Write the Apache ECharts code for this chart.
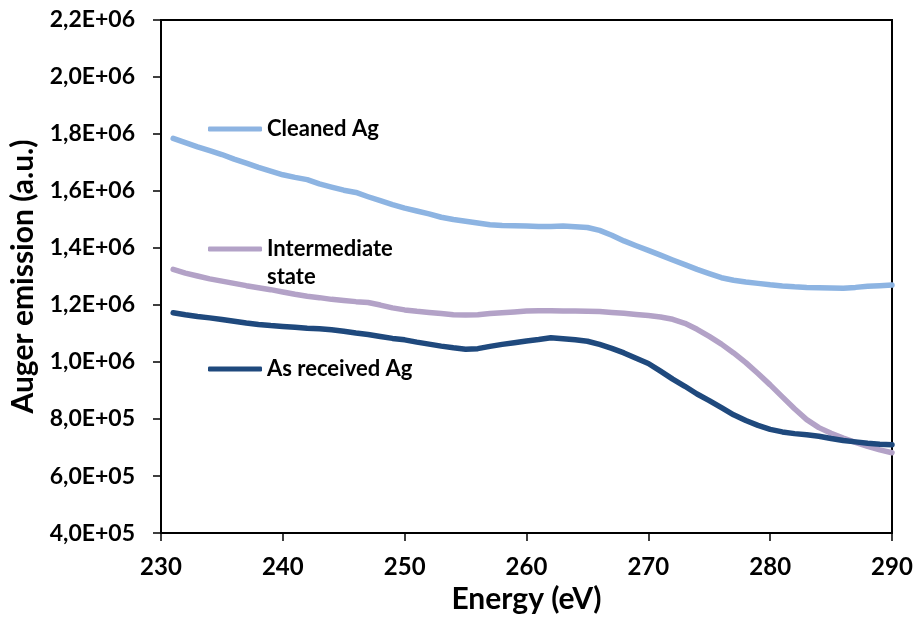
<!DOCTYPE html>
<html>
<head>
<meta charset="utf-8">
<script src="https://cdn.jsdelivr.net/npm/echarts@6/dist/echarts.min.js"></script>
<style>
  html, body { margin: 0; padding: 0; background: #fff; }
  #chart { width: 916px; height: 619px; }
</style>
</head>
<body>
<div id="chart"></div>
<script>
// energie (eV)
const energies = [231, 232, 233, 234, 235, 236, 237, 238, 239, 240,
  241, 242, 243, 244, 245, 246, 247, 248, 249, 250,
  251, 252, 253, 254, 255, 256, 257, 258, 259, 260,
  261, 262, 263, 264, 265, 266, 267, 268, 269, 270,
  271, 272, 273, 274, 275, 276, 277, 278, 279, 280,
  281, 282, 283, 284, 285, 286, 287, 288, 289, 290];

// valeurs en milliers (x1000)
const cleanedAg = [1785, 1770, 1755, 1742, 1728, 1712, 1698, 1683, 1670, 1657,
  1648, 1640, 1625, 1614, 1603, 1595, 1580, 1566, 1552, 1540,
  1530, 1520, 1508, 1500, 1494, 1488, 1482, 1479, 1478, 1477,
  1476, 1476, 1477, 1475, 1472, 1462, 1445, 1425, 1408, 1392,
  1375, 1358, 1342, 1325, 1310, 1296, 1287, 1281, 1276, 1271,
  1267, 1264, 1262, 1261, 1260, 1259, 1262, 1266, 1268, 1270];

const intermediate = [1325, 1312, 1302, 1292, 1284, 1276, 1268, 1261, 1254, 1246,
  1238, 1231, 1226, 1220, 1216, 1212, 1209, 1200, 1190, 1183,
  1178, 1174, 1170, 1166, 1165, 1166, 1170, 1173, 1176, 1179,
  1180, 1180, 1179, 1179, 1178, 1177, 1174, 1171, 1167, 1163,
  1158, 1150, 1136, 1115, 1090, 1063, 1032, 998, 960, 920,
  878, 836, 798, 770, 750, 733, 718, 704, 692, 682];

const asReceived = [1173, 1166, 1160, 1155, 1149, 1143, 1137, 1132, 1128, 1125,
  1122, 1119, 1117, 1113, 1108, 1102, 1097, 1090, 1083, 1078,
  1070, 1063, 1056, 1050, 1045, 1047, 1055, 1062, 1068, 1074,
  1079, 1085, 1082, 1078, 1073, 1062, 1048, 1032, 1013, 995,
  968, 940, 915, 888, 865, 840, 815, 795, 778, 764,
  755, 749, 745, 740, 732, 725, 720, 715, 712, 710];

const seriesNames = ['Cleaned Ag', 'Intermediate state', 'As received Ag'];
const seriesColors = ['#8DB4E2', '#B3A2C7', '#1F497D'];

const FONT = 'Lato';

function toPairs(vals) {
  return energies.map((e, i) => [e, vals[i] * 1000]);
}

// format 2,2E+06
function sciLabel(v) {
  if (v === 0) return '0';
  const exp = Math.floor(Math.log10(v) + 1e-9);
  const m = v / Math.pow(10, exp);
  return m.toFixed(1).replace('.', ',') + 'E+' + String(exp).padStart(2, '0');
}

const myChart = echarts.init(document.getElementById('chart'));

const lineSeries = [cleanedAg, intermediate, asReceived].map((vals, i) => ({
  name: seriesNames[i],
  type: 'line',
  showSymbol: false,
  symbol: 'none',
  data: toPairs(vals),
  lineStyle: { color: seriesColors[i], width: 5.5, cap: 'round', join: 'round' },
  itemStyle: { color: seriesColors[i] }
}));

myChart.setOption({
  animation: false,
  backgroundColor: '#fff',
  grid: {
    left: 161,
    right: 24,
    top: 20,
    bottom: 82,
    show: true,
    borderColor: '#000',
    borderWidth: 2
  },
  legend: {
    orient: 'vertical',
    left: 208,
    top: 115,
    padding: 0,
    itemWidth: 54,
    itemHeight: 5,
    itemGap: 64,
    icon: 'roundRect',
    textStyle: {
      fontFamily: FONT,
      fontWeight: 'bold',
      fontSize: 22,
      lineHeight: 28,
      color: '#000'
    },
    // ligne vide au-dessus pour aligner le trait sur "Intermediate"
    formatter: function (name) {
      return name === 'Intermediate state' ? '\nIntermediate\nstate' : name;
    },
    data: seriesNames
  },
  xAxis: {
    type: 'value',
    min: 230,
    max: 290,
    interval: 10,
    name: 'Energy (eV)',
    nameLocation: 'middle',
    nameGap: 47,
    nameTextStyle: { fontFamily: FONT, fontWeight: 'bold', fontSize: 30, color: '#000' },
    splitLine: { show: false },
    axisLine: { lineStyle: { color: '#000', width: 2 } },
    axisTick: { inside: false, length: 8, lineStyle: { color: '#000', width: 1.5 } },
    axisLabel: { fontFamily: FONT, fontWeight: 'bold', fontSize: 24, color: '#000', margin: 22 }
  },
  yAxis: {
    type: 'value',
    min: 400000,
    max: 2200000,
    interval: 200000,
    name: 'Auger emission (a.u.)',
    nameLocation: 'middle',
    nameGap: 120,
    nameTextStyle: { fontFamily: FONT, fontWeight: 'bold', fontSize: 30, color: '#000' },
    splitLine: { show: false },
    axisLine: { show: true, lineStyle: { color: '#000', width: 2 } },
    axisTick: { show: true, length: 8, lineStyle: { color: '#000', width: 1.5 } },
    axisLabel: {
      fontFamily: FONT, fontWeight: 'bold', fontSize: 23, color: '#000', margin: 26,
      formatter: sciLabel
    }
  },
  series: lineSeries
});
</script>
</body>
</html>
